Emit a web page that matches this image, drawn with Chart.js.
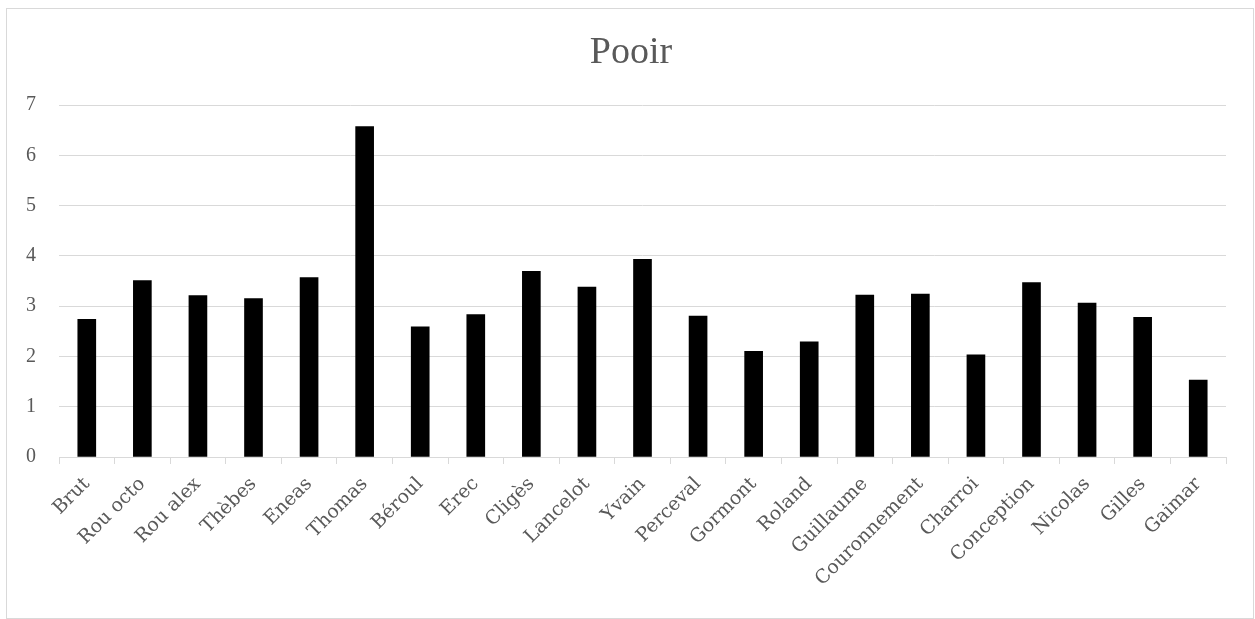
<!DOCTYPE html>
<html>
<head>
<meta charset="utf-8">
<script src="https://cdn.jsdelivr.net/npm/chart.js@4.4.1/dist/chart.umd.min.js"></script>
<style>
  body { margin: 0; background: #fff; }
  #wrap { width: 1255px; height: 619px; }
</style>
</head>
<body>
<div id="wrap"><canvas id="grafico"></canvas></div>
<script>
const titulo = "Pooir";
const textes = ["Brut", "Rou octo", "Rou alex", "Thèbes", "Eneas", "Thomas", "Béroul", "Erec", "Cligès", "Lancelot", "Yvain",
    "Perceval", "Gormont", "Roland", "Guillaume", "Couronnement", "Charroi", "Conception", "Nicolas", "Gilles", "Gaimar"];
const valeurs = [2.74, 3.51, 3.21, 3.15, 3.57, 6.57, 2.59, 2.83, 3.69, 3.38, 3.93,
    2.80, 2.10, 2.29, 3.22, 3.24, 2.03, 3.47, 3.06, 2.78, 1.53];
const yMin = 0;
const yMax = 7;
const yPas = 1;

const gris = "#d9d9d9";
const texteGris = "#595959";
const police = "'Liberation Serif', 'DejaVu Serif', serif";
const policeLarge = "'DejaVu Serif', serif";

// cadre + titre
const cadre = {
    id: "cadre",
    afterDraw(chart) {
        const ctx = chart.ctx;
        ctx.save();
        ctx.strokeStyle = gris;
        ctx.lineWidth = 1;
        ctx.strokeRect(6.5, 8.5, 1247, 610);
        ctx.fillStyle = texteGris;
        ctx.font = "38px " + police;
        ctx.textAlign = "center";
        ctx.textBaseline = "alphabetic";
        ctx.fillText(titulo, 631, 63);
        ctx.restore();
    }
};

let ctx = document.getElementById("grafico").getContext("2d");
let chart = new Chart(ctx, {
    type: "bar",
    data: {
        labels: textes,
        datasets: [{ label: titulo, data: valeurs, backgroundColor: "#000", borderColor: "#000", borderWidth: 0, barThickness: 18 }]
    },
    options: {
        responsive: true,
        maintainAspectRatio: false,
        animation: false,
        layout: { padding: { top: 105, right: 29, bottom: 0, left: 0 } },
        plugins: {
            legend: { display: false },
            tooltip: { enabled: false }
        },
        scales: {
            x: {
                afterFit: (s) => { s.height = 162; },
                grid: { display: true, drawOnChartArea: false, drawTicks: true, tickLength: 7, offset: true, color: gris },
                border: { color: gris },
                ticks: {
                    color: texteGris, minRotation: 45, maxRotation: 45, autoSkip: false, padding: 9,
                    font: { family: policeLarge, size: 19 }
                }
            },
            y: {
                min: yMin, max: yMax,
                afterFit: (s) => { s.width = 59; },
                grid: { color: gris, drawTicks: false },
                border: { display: false },
                ticks: { stepSize: yPas, color: texteGris, padding: 23, font: { family: police, size: 20 } }
            }
        }
    },
    plugins: [cadre]
});
</script>
</body>
</html>
